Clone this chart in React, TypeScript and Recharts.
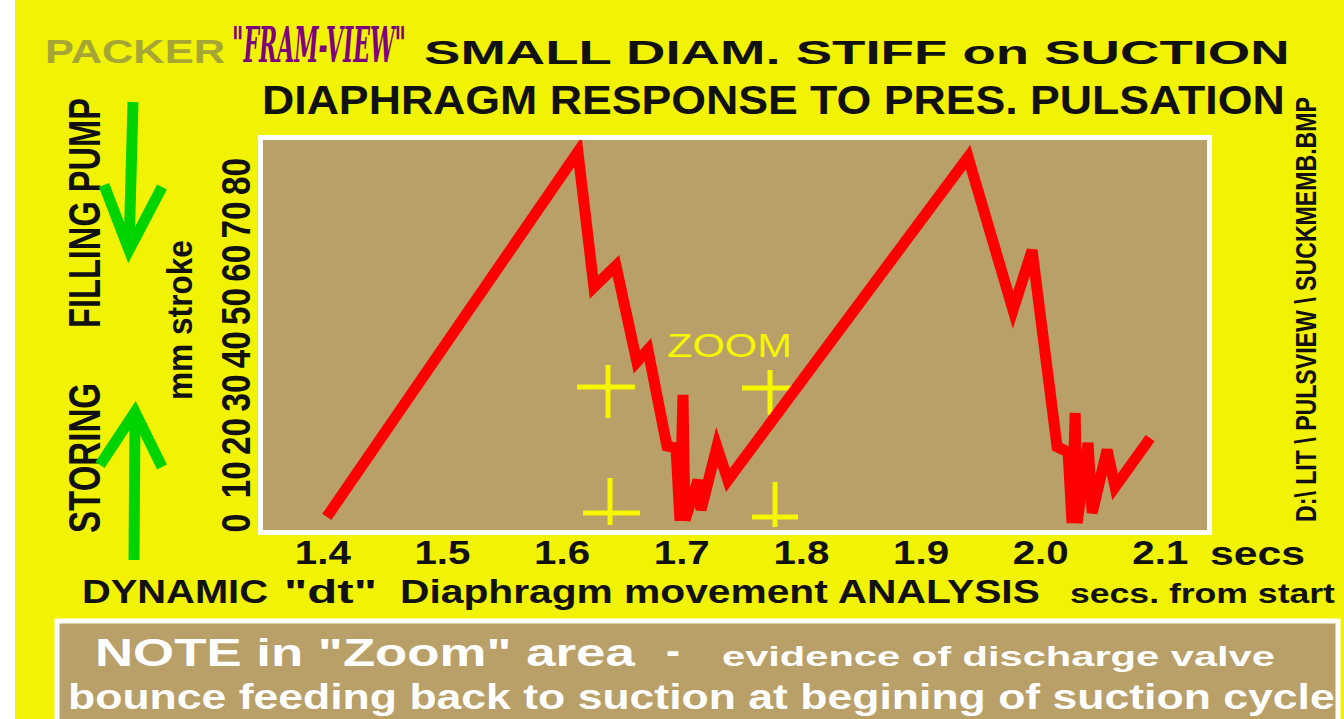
import React, { useLayoutEffect, useRef, useState } from "react";
import { LineChart, Line, XAxis, YAxis } from "recharts";

// seconds from start
const times = [
  1.4033, 1.6132, 1.6266, 1.645, 1.6625, 1.6717, 1.6876, 1.6952, 1.6985, 1.701, 1.7027, 1.7135, 1.7161, 1.7294,
  1.7386, 1.9393, 1.9769, 1.9928, 2.0137, 2.0229, 2.0262, 2.0288, 2.0304, 2.0396, 2.043, 2.0555, 2.0622, 2.0915,
];
// diaphragm stroke, mm
const stroke = [
  1.4, 85.7, 54.5, 59.4, 37.2, 40.0, 17.8, 17.3, 0.5, 29.6, 0.7, 9.9, 3.0, 17.6,
  9.9, 84.5, 49.2, 63.0, 17.6, 16.4, 0, 25.4, 0, 18.5, 2.3, 16.9, 8.3, 19.6,
];
const xTicks = [1.4, 1.5, 1.6, 1.7, 1.8, 1.9, 2.0, 2.1];
const yTicks = [0, 10, 20, 30, 40, 50, 60, 70, 80];

const data = times.map((t, i) => ({ t, mm: stroke[i] }));

const W = 1344;
const H = 719;
const yellow = "#f2f204";
const tan = "#b8a068";
const green = "#00d400";
const font = "'Liberation Sans', Arial, sans-serif";

function XTick({ x, payload }: any) {
  return (
    <text x={x} y={564} textAnchor="middle" fontFamily={font} fontWeight="bold" fontSize={33} fill="#111"
      textLength={56} lengthAdjust="spacingAndGlyphs">
      {payload.value.toFixed(1)}
    </text>
  );
}

function YTick({ y, payload }: any) {
  const label = String(payload.value);
  return (
    <text transform={`translate(250,${y}) rotate(-90)`} textAnchor="middle" fontFamily={font} fontWeight="bold"
      fontSize={40} fill="#111" textLength={label.length === 1 ? 19 : 37} lengthAdjust="spacingAndGlyphs">
      {label}
    </text>
  );
}

// text squeezed/stretched horizontally to a measured width
function T({ x, y, len, size, children, fill = "#111", weight = "bold", rot = false, ...rest }: any) {
  const ref = useRef<SVGTextElement>(null);
  const [k, setK] = useState(1);
  useLayoutEffect(() => {
    const n = ref.current ? ref.current.getComputedTextLength() : 0;
    if (n > 0) setK(len / n);
  }, [len, size]);
  const tf = `translate(${x},${y})${rot ? " rotate(-90)" : ""} scale(${k},1)`;
  return (
    <text ref={ref} x={0} y={0} transform={tf} fontFamily={font} fontWeight={weight} fontSize={size} fill={fill}
      {...rest}>
      {children}
    </text>
  );
}

function Backdrop() {
  return (
    <svg width={W} height={H} style={{ position: "absolute", left: 0, top: 0 }}>
      <rect x={0} y={0} width={W} height={H} fill={yellow} />
      <rect x={0} y={0} width={15} height={H} fill="#fff" />
      {/* plot frame */}
      <rect x={260.5} y={137.5} width={949} height={395} fill={tan} stroke="#fff" strokeWidth={5} />
      {/* titles */}
      <T x={45} y={63} len={180} size={34} fill="#a6a636">PACKER</T>
      <T x={232} y={62} len={174} size={48} fill="#7d037d" fontStyle="italic" fontWeight={900}
        fontFamily="'DejaVu Serif', serif">"FRAM-VIEW"</T>
      <T x={424} y={64} len={866} size={33}>SMALL DIAM. STIFF on SUCTION</T>
      <T x={262} y={114} len={1023} size={40}>DIAPHRAGM RESPONSE TO PRES. PULSATION</T>
      {/* left labels */}
      <T x={100} y={328} len={230} size={44} rot>FILLING PUMP</T>
      <T x={100} y={533} len={150} size={44} rot>STORING</T>
      <T x={192} y={400} len={160} size={36} rot>mm stroke</T>
      <g stroke={green} strokeWidth={11} fill="none">
        <line x1={133} y1={102} x2={129} y2={250} />
        <polyline points="104,185 129,250 162,187" />
        <line x1={134} y1={560} x2={135} y2={414} />
        <polyline points="100,465 135,412 162,467" />
      </g>
      {/* right file path */}
      <T x={1316} y={522} len={425} size={29} rot>D:\ LIT \ PULSVIEW \ SUCKMEMB.BMP</T>
      {/* zoom markers */}
      <g stroke="#f6f600" strokeWidth={5}>
        <line x1={577} y1={387} x2={635} y2={387} />
        <line x1={608} y1={365} x2={608} y2={418} />
        <line x1={610} y1={478} x2={610} y2={525} />
        <line x1={583} y1={513} x2={640} y2={513} />
        <line x1={742} y1={388} x2={793} y2={388} />
        <line x1={770} y1={370} x2={770} y2={415} />
        <line x1={775} y1={482} x2={775} y2={527} />
        <line x1={752} y1={517} x2={798} y2={517} />
      </g>
      <T x={667} y={357} len={125} size={34} fill="#f6f600" weight="normal">ZOOM</T>
      {/* bottom captions */}
      <T x={1210} y={565} len={95} size={33}>secs</T>
      <T x={82} y={603} len={186} size={34}>DYNAMIC</T>
      <T x={284} y={603} len={93} size={34}>"dt"</T>
      <T x={400} y={603} len={640} size={34}>Diaphragm movement ANALYSIS</T>
      <T x={1070} y={603} len={265} size={27}>secs. from start</T>
      {/* note box */}
      <rect x={57} y={621} width={1281} height={110} fill={tan} stroke="#fff" strokeWidth={5} />
      <T x={95} y={666} len={540} size={38} fill="#fff">NOTE in "Zoom" area</T>
      <T x={666} y={664} len={14} size={38} fill="#fff">-</T>
      <T x={722} y={666} len={553} size={28} fill="#fff">evidence of discharge valve</T>
      <T x={68} y={709} len={1267} size={36} fill="#fff">bounce feeding back to suction at begining of suction cycle</T>
    </svg>
  );
}

export default function App() {
  return (
    <div style={{ position: "absolute", left: 0, top: 0, width: W, height: H, overflow: "hidden" }}>
      <Backdrop />
      <div style={{ position: "absolute", left: 0, top: 0 }}>
        <LineChart width={W} height={H} data={data} margin={{ top: 140, right: 137, bottom: 149, left: 203 }}>
          <XAxis dataKey="t" type="number" domain={[1.35, 2.139]} ticks={xTicks} axisLine={false} tickLine={false}
            height={40} tick={<XTick />} allowDataOverflow />
          <YAxis type="number" domain={[-1.62, 88.45]} ticks={yTicks} axisLine={false} tickLine={false} width={60}
            tick={<YTick />} allowDataOverflow />
          <Line dataKey="mm" stroke="#ff0000" strokeWidth={11} dot={false} type="linear" isAnimationActive={false} />
        </LineChart>
      </div>
    </div>
  );
}
